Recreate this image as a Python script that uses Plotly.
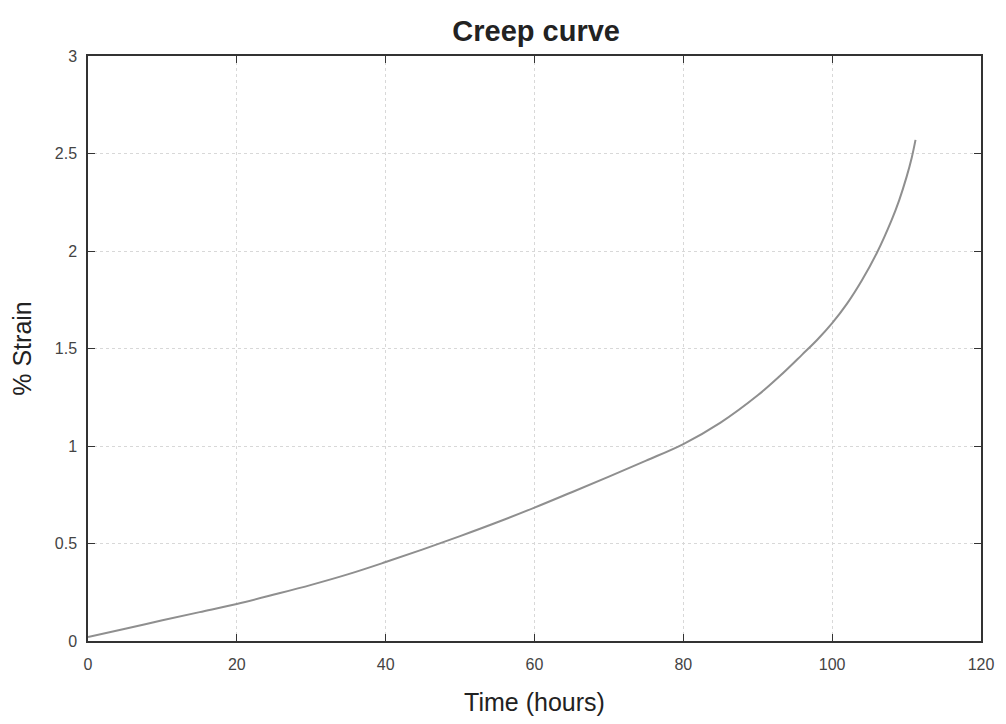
import plotly.graph_objects as go

time_hours = [0, 5, 10, 15, 20, 25, 30, 35, 40, 45, 50, 55, 60, 65, 70, 75, 80, 85, 90,
              93, 96, 98, 100, 102, 104, 106, 108, 109, 110, 110.7, 111.2]
strain_pct = [0.02, 0.063, 0.106, 0.148, 0.19, 0.238, 0.288, 0.343, 0.405, 0.47, 0.538, 0.609, 0.684,
              0.763, 0.843, 0.925, 1.01, 1.12, 1.26, 1.36, 1.47, 1.545, 1.63, 1.73, 1.85, 1.99,
              2.16, 2.26, 2.38, 2.48, 2.57]

x_ticks = [0, 20, 40, 60, 80, 100, 120]
y_ticks = [0, 0.5, 1, 1.5, 2, 2.5, 3]
y_ticklabels = ["0", "0.5", "1", "1.5", "2", "2.5", "3"]

fig = go.Figure()
fig.add_trace(go.Scatter(x=time_hours, y=strain_pct, mode="lines",
                         line=dict(color="#8f8f8f", width=2, shape="spline", smoothing=1.0),
                         showlegend=False))

axis_common = dict(
    showline=True, linecolor="#333333", linewidth=1.5, mirror="ticks",
    ticks="inside", ticklen=7, tickcolor="#333333", tickwidth=1,
    showgrid=True, gridcolor="#d8d8d8", griddash="dot", gridwidth=1,
    zeroline=False, tickfont=dict(family="Liberation Sans, Arial", size=16, color="#444444"),
)

fig.update_xaxes(range=[0, 120], tickvals=x_ticks, ticklabelstandoff=8,
                 title=dict(text="Time (hours)", font=dict(family="Liberation Sans, Arial", size=25, color="#222222"),
                            standoff=22),
                 **axis_common)
fig.update_yaxes(range=[0, 3], tickvals=y_ticks, ticktext=y_ticklabels, ticklabelstandoff=6,
                 title=dict(text="% Strain", font=dict(family="Liberation Sans, Arial", size=25, color="#222222"),
                            standoff=16),
                 **axis_common)

fig.update_layout(
    width=1006, height=724,
    margin=dict(l=88, r=21, t=56, b=81),
    paper_bgcolor="white", plot_bgcolor="white",
    title=dict(text="<b>Creep curve</b>", x=0.533, xanchor="center", y=0.958, yanchor="middle",
               font=dict(family="Liberation Sans, Arial", size=29, color="#222222")),
)

fig.write_html("out.html")
